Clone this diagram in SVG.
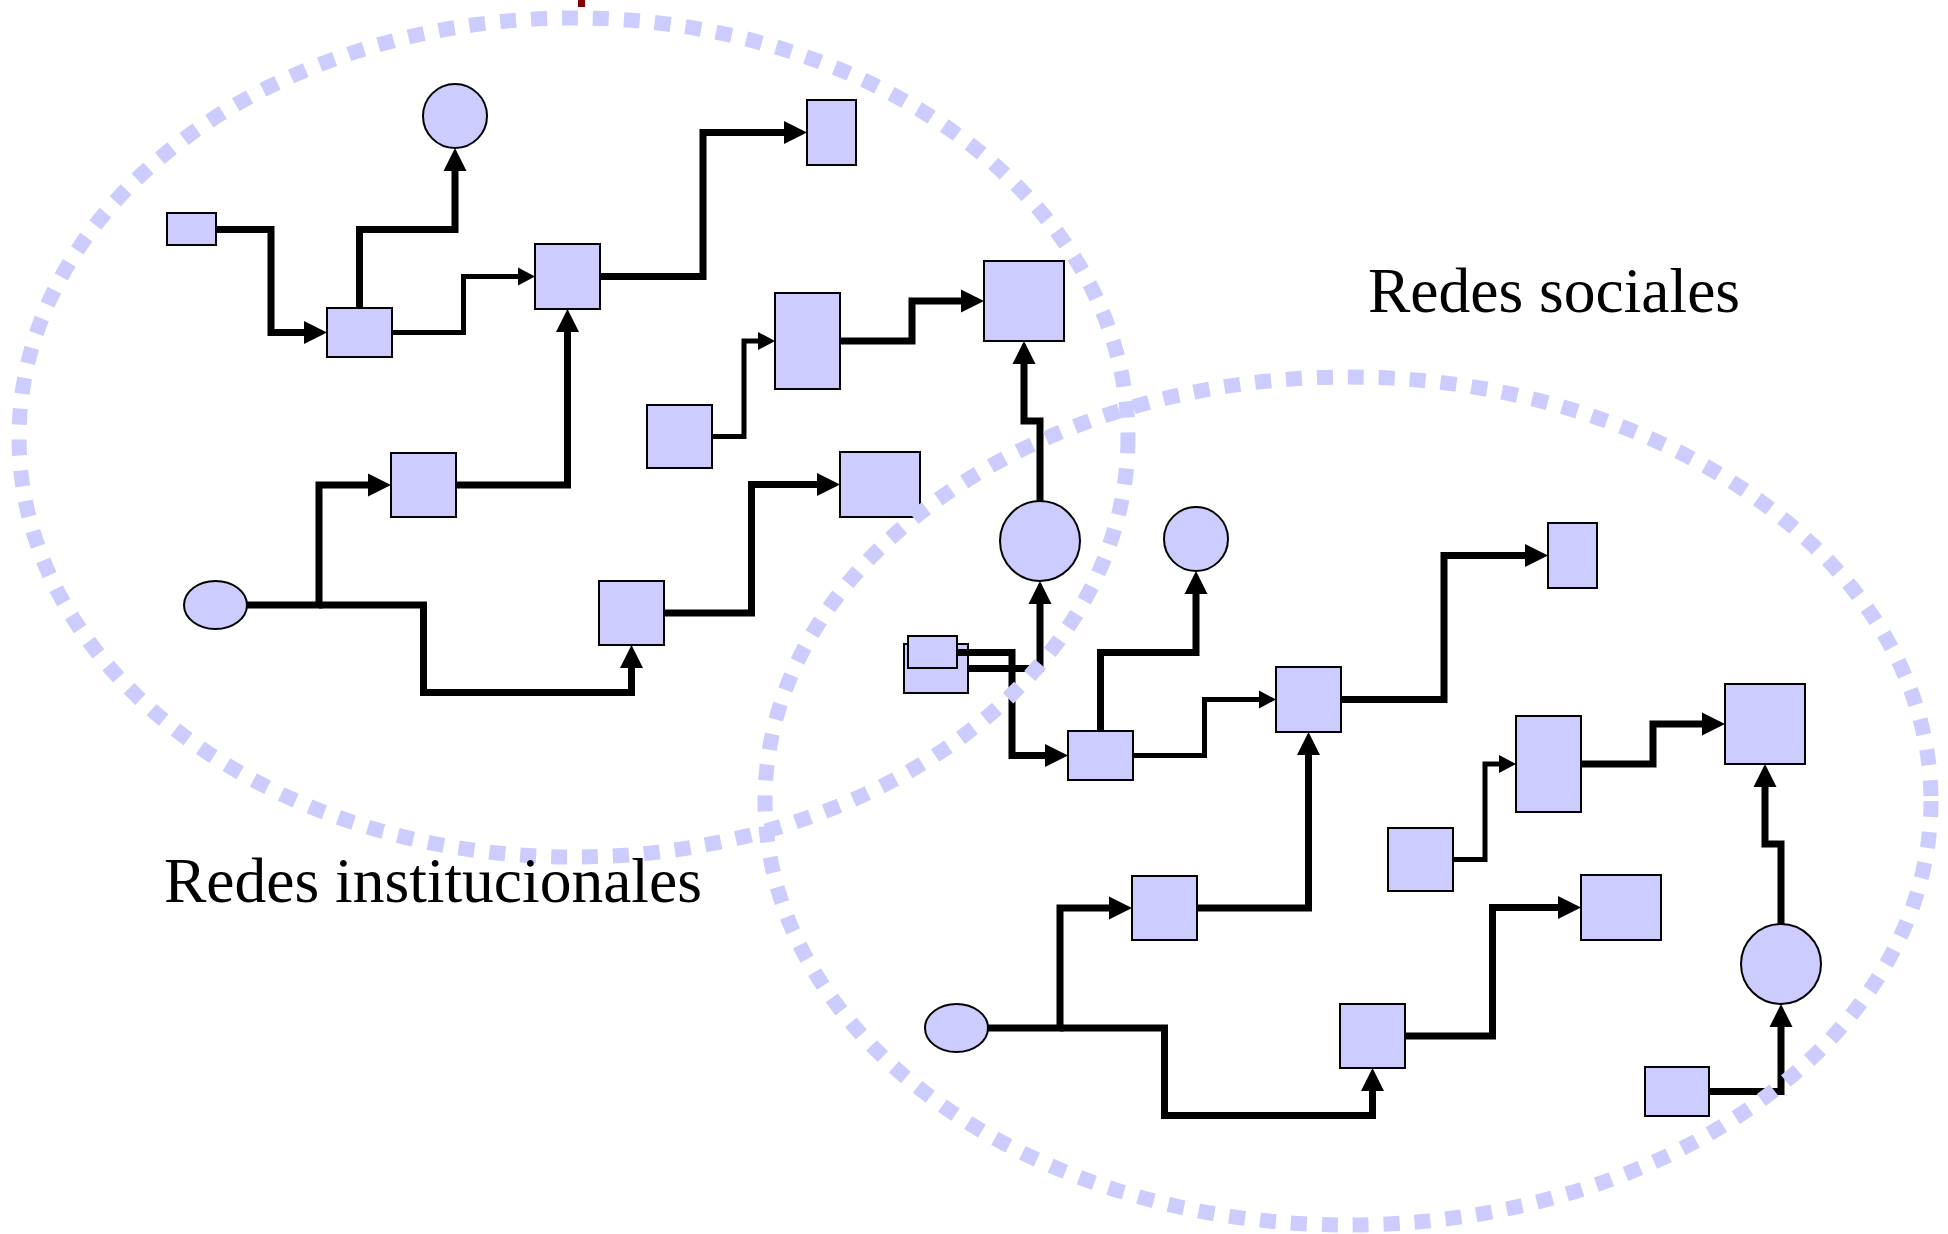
<svg xmlns="http://www.w3.org/2000/svg" width="1948" height="1234" viewBox="0 0 1948 1234">
<defs>
<style>
.n{fill:#CCCCFF;stroke:#000;stroke-width:2}
.c{fill:none;stroke:#000;stroke-width:7}
.t{fill:none;stroke:#000;stroke-width:5}
.ck{marker-end:url(#ah)}
.tk{marker-end:url(#as)}
.reg{fill:none;stroke:#CCCCFF;stroke-width:15;stroke-dasharray:16 15}
.lbl{font-family:"Liberation Serif","Times New Roman",serif;font-size:63.5px;fill:#000}
</style>
<marker id="ah" markerUnits="userSpaceOnUse" markerWidth="23" markerHeight="23" refX="0" refY="11.5" orient="auto" overflow="visible">
<path d="M0,0 L23,11.5 L0,23 Z" fill="#000"/>
</marker>
<marker id="as" markerUnits="userSpaceOnUse" markerWidth="17" markerHeight="18" refX="0" refY="9" orient="auto" overflow="visible">
<path d="M0,0 L17,9 L0,18 Z" fill="#000"/>
</marker>
</defs>
<rect width="1948" height="1234" fill="#fff"/>
<rect x="578" y="0" width="7" height="7" fill="#800000"/>

<g id="nodes-institucionales">
<g id="iA"><rect class="n" x="167" y="213" width="49" height="32"/></g>
<g id="iB"><circle class="n" cx="455" cy="116" r="32"/></g>
<g id="iC"><rect class="n" x="327" y="308" width="65" height="49"/></g>
<g id="iD"><rect class="n" x="535" y="244" width="65" height="65"/></g>
<g id="iE"><rect class="n" x="807" y="100" width="49" height="65"/></g>
<g id="iF"><rect class="n" x="775" y="293" width="65" height="96"/></g>
<g id="iG"><rect class="n" x="984" y="261" width="80" height="80"/></g>
<g id="iH"><rect class="n" x="647" y="405" width="65" height="63"/></g>
<g id="iI"><circle class="n" cx="1040" cy="541" r="40"/></g>
<g id="iJ"><rect class="n" x="840" y="452" width="80" height="65"/></g>
<g id="iK"><ellipse class="n" cx="215.5" cy="605" rx="31.5" ry="24"/></g>
<g id="iL"><rect class="n" x="391" y="453" width="65" height="64"/></g>
<g id="iM"><rect class="n" x="599" y="581" width="65" height="64"/></g>
<g id="iP"><rect class="n" x="904" y="644" width="64" height="49"/></g>
</g>

<g id="nodes-sociales">
<g id="sA"><rect class="n" x="908" y="636" width="49" height="32"/></g>
<g id="sB"><circle class="n" cx="1196" cy="539" r="32"/></g>
<g id="sC"><rect class="n" x="1068" y="731" width="65" height="49"/></g>
<g id="sD"><rect class="n" x="1276" y="667" width="65" height="65"/></g>
<g id="sE"><rect class="n" x="1548" y="523" width="49" height="65"/></g>
<g id="sF"><rect class="n" x="1516" y="716" width="65" height="96"/></g>
<g id="sG"><rect class="n" x="1725" y="684" width="80" height="80"/></g>
<g id="sH"><rect class="n" x="1388" y="828" width="65" height="63"/></g>
<g id="sI"><circle class="n" cx="1781" cy="964" r="40"/></g>
<g id="sJ"><rect class="n" x="1581" y="875" width="80" height="65"/></g>
<g id="sK"><ellipse class="n" cx="956.5" cy="1028" rx="31.5" ry="24"/></g>
<g id="sL"><rect class="n" x="1132" y="876" width="65" height="64"/></g>
<g id="sM"><rect class="n" x="1340" y="1004" width="65" height="64"/></g>
<g id="sP"><rect class="n" x="1645" y="1067" width="64" height="49"/></g>
</g>

<g id="connectors">
<path class="c ck" d="M216,229.5 H271 V332.5 H304"/>
<path class="c ck" d="M359.5,308 V229.5 H455 V171"/>
<path class="t tk" d="M392,332.5 H463.5 V276.5 H518"/>
<path class="c ck" d="M456,485 H567.5 V332"/>
<path class="c ck" d="M600,276.5 H703 V132.5 H784"/>
<path class="t tk" d="M712,436.5 H744 V341 H758"/>
<path class="c ck" d="M840,341 H912 V301 H961"/>
<path class="c ck" d="M1040,501 V421 H1024 V364"/>
<path class="c ck" d="M968,668.5 H1040 V604"/>
<path class="c ck" d="M247,605 H319 V485 H368"/>
<path class="c ck" d="M319,605 H423.5 V692.5 H631.5 V668"/>
<path class="c ck" d="M664,613 H751.5 V484.5 H817"/>

<path class="c ck" d="M957,652.5 H1012 V755.5 H1045"/>
<path class="c ck" d="M1100.5,731 V652.5 H1196 V594"/>
<path class="t tk" d="M1133,755.5 H1204.5 V699.5 H1259"/>
<path class="c ck" d="M1197,908 H1308.5 V755"/>
<path class="c ck" d="M1341,699.5 H1444 V555.5 H1525"/>
<path class="t tk" d="M1453,859.5 H1485 V764 H1499"/>
<path class="c ck" d="M1581,764 H1653 V724 H1702"/>
<path class="c ck" d="M1781,924 V844 H1765 V787"/>
<path class="c ck" d="M1709,1091.5 H1781 V1027"/>
<path class="c ck" d="M988,1028 H1060 V908 H1109"/>
<path class="c ck" d="M1060,1028 H1164.5 V1115.5 H1372.5 V1091"/>
<path class="c ck" d="M1405,1036 H1492.5 V907.5 H1558"/>
</g>

<g id="region-institucionales"><ellipse class="reg" cx="573.5" cy="437.5" rx="554.5" ry="419.5"/></g>
<g id="region-sociales"><ellipse class="reg" cx="1348" cy="801" rx="583" ry="424"/></g>

<text class="lbl" x="1368" y="312">Redes sociales</text>
<text class="lbl" x="164" y="902">Redes institucionales</text>
</svg>
